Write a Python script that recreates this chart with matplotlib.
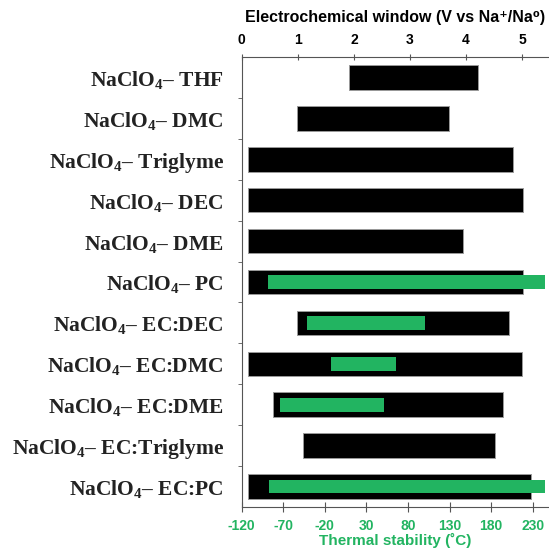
import numpy as np
import matplotlib.pyplot as plt

plt.rcParams['mathtext.fontset'] = 'custom'
plt.rcParams['mathtext.rm'] = 'Liberation Serif:bold'
plt.rcParams['mathtext.it'] = 'Liberation Serif:bold'
plt.rcParams['mathtext.bf'] = 'Liberation Serif:bold'

solvents = ['THF', 'DMC', 'Triglyme', 'DEC', 'DME', 'PC',
            'EC:DEC', 'EC:DMC', 'EC:DME', 'EC:Triglyme', 'EC:PC']
# electrochemical window (V vs Na+/Na0)
ew_low = [1.91, 0.99, 0.12, 0.12, 0.12, 0.12, 0.99, 0.12, 0.55, 1.10, 0.12]
ew_high = [4.21, 3.70, 4.83, 5.01, 3.95, 5.01, 4.77, 5.00, 4.66, 4.52, 5.16]
# thermal stability (deg C), None where not reported
th_low = [None, None, None, None, None, -88, -42, -13, -74, None, -87]
th_high = [None, None, None, None, None, 245, 100, 66, 51, None, 245]

green = '#22b461'
spine_col = '#555555'
sans = ['Liberation Sans', 'DejaVu Sans']

fig = plt.figure(figsize=(5.49, 5.5), dpi=100)
ax = fig.add_axes([0.4402, 0.0782, 0.5580, 0.8182])
ax2 = ax.twiny()

y = np.arange(len(solvents))
ax.barh(y, np.array(ew_high) - np.array(ew_low), left=ew_low, height=0.6,
        color='black', edgecolor='#999999', linewidth=0.7, zorder=2)

ax.set_xlim(0, 5.46)
ax.set_ylim(10.5, -0.5)
ax.xaxis.tick_top()
ax.xaxis.set_label_position('top')
ax.set_xticks(range(6))
ax.set_xticklabels([str(v) for v in range(6)], fontsize=10,
                   fontweight='bold', family=sans)
ax.set_xlabel('Electrochemical window (V vs Na⁺/Na⁰)',
              fontsize=11.5, fontweight='bold', family=sans, labelpad=8)
ax.tick_params(axis='x', which='major', direction='inout', length=4,
               color=spine_col, pad=5)

labels = ['NaClO$_4$– ' + s for s in solvents]
ax.set_yticks(y)
ax.set_yticklabels(labels, fontsize=15.5, family='Liberation Serif',
                   fontweight='bold', color='#222222')
ax.set_yticks(np.arange(0.5, 10.5, 1), minor=True)
ax.tick_params(axis='y', which='major', length=0, pad=13)
ax.tick_params(axis='y', which='minor', length=3, direction='out',
               color=spine_col)

for side in ['right', 'bottom']:
    ax.spines[side].set_visible(False)
for side in ['top', 'left']:
    ax.spines[side].set_color(spine_col)
    ax.spines[side].set_linewidth(0.8)

ax2.set_xlim(-120, 248.4)
ax2.xaxis.tick_bottom()
ax2.xaxis.set_label_position('bottom')
for i in range(len(solvents)):
    if th_low[i] is not None:
        ax2.barh(i, th_high[i] - th_low[i], left=th_low[i], height=0.34,
                 color=green, zorder=3)
ticks_t = list(range(-120, 231, 50))
ax2.set_xticks(ticks_t)
ax2.set_xticklabels([str(t) for t in ticks_t], fontsize=10,
                    fontweight='bold', family=sans, color=green)
ax2.set_xlabel('Thermal stability (˚C)', fontsize=11, fontweight='bold',
               family=sans, color=green, labelpad=0)
ax2.tick_params(axis='x', direction='inout', length=7, color=spine_col, pad=5)
for side in ['right', 'top', 'left']:
    ax2.spines[side].set_visible(False)
ax2.spines['bottom'].set_color(spine_col)
ax2.spines['bottom'].set_linewidth(0.8)
ax2.set_ylim(10.5, -0.5)

fig.savefig('out.png', dpi=100)
